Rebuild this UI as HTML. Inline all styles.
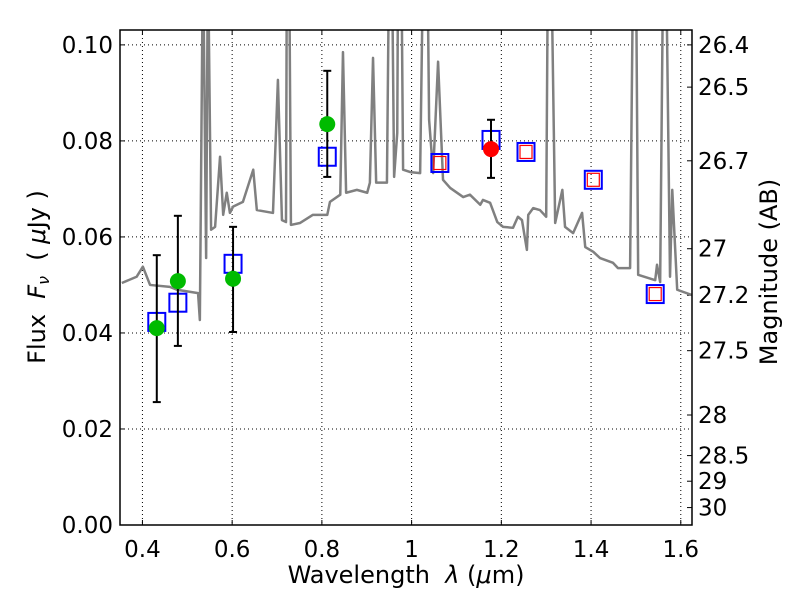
<!DOCTYPE html>
<html><head><meta charset="utf-8"><style>
body{margin:0;background:#fff}
svg text{font-family:"DejaVu Sans","Liberation Sans",sans-serif;fill:#000}
</style></head><body>
<svg id="c" width="800" height="600" xmlns="http://www.w3.org/2000/svg"></svg>
<script>
const specLam=[0.354,0.387,0.401,0.417,0.461,0.477,0.524,0.528,0.535,0.542,0.546,0.553,0.562,0.573,0.580,0.588,0.595,0.602,0.624,0.647,0.655,0.691,0.702,0.711,0.720,0.722,0.727,0.731,0.751,0.780,0.812,0.818,0.841,0.847,0.854,0.878,0.901,0.907,0.914,0.921,0.945,0.950,0.956,0.961,0.968,0.970,0.977,0.981,0.997,1.019,1.026,1.035,1.039,1.048,1.059,1.070,1.086,1.115,1.130,1.153,1.159,1.175,1.191,1.204,1.226,1.237,1.246,1.257,1.260,1.271,1.286,1.300,1.304,1.311,1.320,1.336,1.342,1.360,1.380,1.387,1.405,1.420,1.449,1.460,1.487,1.494,1.500,1.505,1.543,1.547,1.554,1.561,1.567,1.576,1.581,1.592,1.625];
const specFlux=[0.0504,0.0517,0.0538,0.0500,0.0496,0.0490,0.0483,0.0427,0.12,0.0556,0.12,0.0615,0.0621,0.0767,0.0646,0.0692,0.0650,0.0663,0.0673,0.0740,0.0656,0.0650,0.0927,0.0635,0.0631,0.12,0.12,0.0625,0.0629,0.0646,0.0646,0.0673,0.0688,0.0985,0.0692,0.0698,0.0692,0.0713,0.0973,0.0713,0.0713,0.12,0.12,0.0725,0.0817,0.12,0.12,0.0740,0.0735,0.0733,0.12,0.12,0.0844,0.0733,0.0965,0.0719,0.0702,0.0683,0.0688,0.0667,0.0677,0.0671,0.0631,0.0621,0.0619,0.0642,0.0635,0.0573,0.0646,0.0660,0.0656,0.0642,0.12,0.12,0.0629,0.0698,0.0621,0.0608,0.0650,0.0579,0.0569,0.0556,0.0546,0.0535,0.0535,0.12,0.12,0.0521,0.0510,0.0542,0.0506,0.12,0.12,0.0517,0.0698,0.0490,0.0479];
const obsLam=[0.432,0.479,0.602,0.812];
const obsFlux=[0.0410,0.0508,0.0513,0.0835];
const obsHi=[0.0562,0.0644,0.0621,0.0946];
const obsLo=[0.0256,0.0373,0.0402,0.0725];
const redLam=[1.177];
const redFlux=[0.0783];
const redHi=[0.0844];
const redLo=[0.0723];
const modLam=[0.432,0.479,0.602,0.812,1.063,1.177,1.255,1.405,1.543];
const modFlux=[0.0423,0.0463,0.0544,0.0767,0.0754,0.0802,0.0777,0.0719,0.0481];
const modRed=[false,false,false,false,true,false,true,true,true];
const xTicks=[0.4,0.6,0.8,1.0,1.2,1.4,1.6];
const xTickLabels=["0.4","0.6","0.8","1","1.2","1.4","1.6"];
const yTicks=[0,0.02,0.04,0.06,0.08,0.10];
const yTickLabels=["0.00","0.02","0.04","0.06","0.08","0.10"];
const magTicks=[26.4,26.5,26.7,27,27.2,27.5,28,28.5,29,30];

const L=120,R=692,T=30,B=525,X0=0.35,X1=1.625,Y0=0,Y1=0.1031;
const sx=v=>L+(v-X0)/(X1-X0)*(R-L);
const sy=v=>B-(v-Y0)/(Y1-Y0)*(B-T);
const svg=document.getElementById('c');
const NS='http://www.w3.org/2000/svg';
function mk(tag,attrs,parent){const e=document.createElementNS(NS,tag);for(const k in attrs)e.setAttribute(k,attrs[k]);(parent||svg).appendChild(e);return e;}

const defs=mk('defs',{});const cp=mk('clipPath',{id:'clip'},defs);mk('rect',{x:L,y:T,width:R-L,height:B-T},cp);

const grid=mk('g',{});


xTicks.forEach((v,i)=>{
  const x=sx(v);
  mk('line',{x1:x,x2:x,y1:T,y2:B,stroke:'#000','stroke-width':1,'stroke-dasharray':'1,3'},grid);
  mk('line',{x1:x,x2:x,y1:B,y2:B-5,stroke:'#000'},grid);
  mk('line',{x1:x,x2:x,y1:T,y2:T+5,stroke:'#000'},grid);
  const t=mk('text',{x:x,y:B+32,'text-anchor':'middle','font-size':23});
  t.textContent=xTickLabels[i];
  
  
});
yTicks.forEach((v,i)=>{
  const y=sy(v);
  mk('line',{x1:L,x2:R,y1:y,y2:y,stroke:'#000','stroke-width':1,'stroke-dasharray':'1,3'},grid);
  mk('line',{x1:L,x2:L+5,y1:y,y2:y,stroke:'#000'},grid);
  const t=mk('text',{x:L-7,y:y+8,'text-anchor':'end','font-size':23});
  t.textContent=yTickLabels[i];
  
  
});
magTicks.forEach(m=>{
  const f=Math.pow(10,(23.9-m)/2.5);const y=sy(f);
  mk('line',{x1:R,x2:R-5,y1:y,y2:y,stroke:'#000'});
  const t=mk('text',{x:R+6,y:y+8,'font-size':23});
  t.textContent=String(m);
  
  
});

const sp=mk('polyline',{points:specLam.map((l,i)=>sx(l)+','+sy(specFlux[i])).join(' '),fill:'none',stroke:'#808080','stroke-width':2.5,'clip-path':'url(#clip)','stroke-linejoin':'round'});



modLam.forEach((l,i)=>{
  const x=sx(l),y=sy(modFlux[i]);
  const r=mk('rect',{x:x-8.5,y:y-9,width:17,height:18,fill:'none',stroke:'#0000ff','stroke-width':2});
  
  
  if(modRed[i]){const q=mk('rect',{x:x-6,y:y-6.5,width:12,height:13,fill:'none',stroke:'#ff0000','stroke-width':1.2});
  
  }
});
function points(lams,fl,hi,lo,col,name){
  lams.forEach((l,i)=>{
    const x=sx(l);
    const g=mk('g',{});
    
    
    mk('line',{x1:x,x2:x,y1:sy(hi[i]),y2:sy(lo[i]),stroke:'#000','stroke-width':2},g);
    mk('line',{x1:x-4,x2:x+4,y1:sy(hi[i]),y2:sy(hi[i]),stroke:'#000','stroke-width':2},g);
    mk('line',{x1:x-4,x2:x+4,y1:sy(lo[i]),y2:sy(lo[i]),stroke:'#000','stroke-width':2},g);
    mk('circle',{cx:x,cy:sy(fl[i]),r:8,fill:col},g);
  });
}
points(obsLam,obsFlux,obsHi,obsLo,'#00bb00','observed-flux-point');
points(redLam,redFlux,redHi,redLo,'#ff0000','observed-flux-red-point');

const fr=mk('rect',{x:L,y:T,width:R-L,height:B-T,fill:'none',stroke:'#000','stroke-width':1.5});


</script>
<svg width="800" height="600" style="position:absolute;left:0;top:0" xmlns="http://www.w3.org/2000/svg">
<text x="406" y="583" text-anchor="middle" font-size="24">Wavelength&#160;&#160;<tspan font-style="italic">λ</tspan> (<tspan font-style="italic">μ</tspan>m)</text>
<text transform="translate(45,277) rotate(-90)" text-anchor="middle" font-size="24">Flux&#160;&#160;<tspan font-style="italic">F</tspan><tspan font-style="italic" font-size="16" dy="4">ν</tspan><tspan dy="-4">&#160;&#160;( </tspan><tspan font-style="italic">μ</tspan>Jy )</text>
<text transform="translate(777,272) rotate(-90)" text-anchor="middle" font-size="24">Magnitude (AB)</text>
</svg>
</body></html>
